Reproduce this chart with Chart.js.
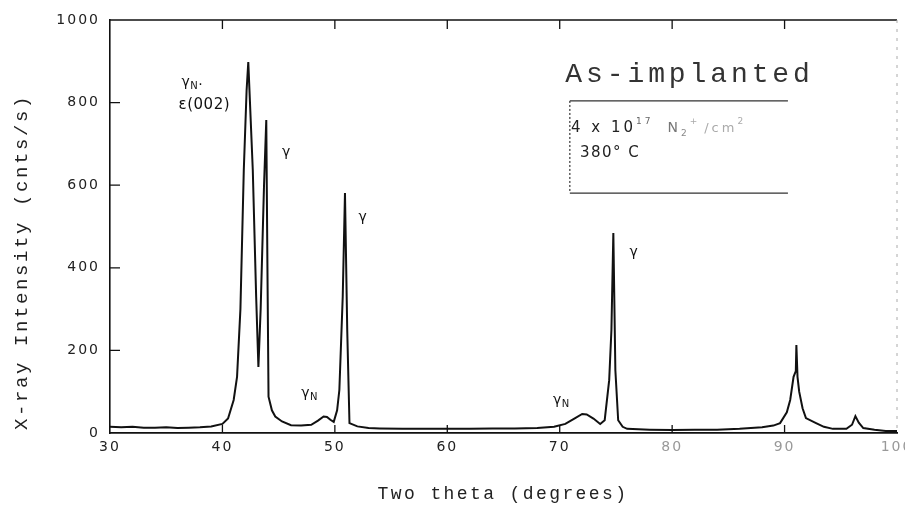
<!DOCTYPE html>
<html>
<head>
<meta charset="utf-8">
<title>XRD - As-implanted</title>
<script src="https://cdn.jsdelivr.net/npm/chart.js@4.4.1/dist/chart.umd.min.js"></script>
<style>
  html, body { margin: 0; padding: 0; background: #fff; }
  #wrap { width: 905px; height: 510px; position: relative; }
</style>
</head>
<body>
<div id="wrap"><canvas id="xrd"></canvas></div>
<script>
// X-ray diffraction pattern, as-implanted sample
var twoTheta = [
  30, 31, 32, 33, 34, 35, 36, 37, 38, 39, 40, 40.5, 41.0, 41.3, 41.6, 41.9, 42.15, 42.3, 42.45, 42.7,
  43.0, 43.2, 43.4, 43.7, 43.9, 44.0, 44.1, 44.4, 44.7, 45.3, 46.1, 47.0, 47.9, 48.5, 49.0, 49.3,
  49.6, 49.9, 50.2, 50.4, 50.7, 50.9, 51.1, 51.3, 52.0, 53, 54, 56, 58, 60, 62, 64, 66, 68, 69.5,
  70.5, 71.3, 72.0, 72.4, 73.0, 73.6, 74.0, 74.4, 74.6, 74.77, 74.95, 75.2, 75.6, 76, 78, 80, 82, 84,
  86, 88, 89.0, 89.6, 90.2, 90.5, 90.8, 91.0, 91.05, 91.15, 91.3, 91.6, 91.9, 92.8, 93.5, 94.3, 95.5,
  96.0, 96.3, 96.6, 97.0, 98, 99, 100
];
var intensity = [
  15, 14, 15, 13, 13, 14, 12, 13, 14, 16, 22, 35, 80, 136, 300, 637, 830, 898, 800, 637,
  330, 160, 300, 600, 758, 410, 88, 55, 40, 28, 19, 18, 20, 30, 40, 39,
  32, 27, 55, 104, 330, 581, 250, 24, 16, 12, 11, 10, 10, 10, 10, 11, 11, 12, 15,
  22, 35, 46, 45, 35, 22, 31, 128, 250, 484, 152, 31, 15, 10, 8, 7, 8, 8,
  10, 14, 18, 24, 50, 80, 136, 150, 213, 136, 100, 60, 36, 24, 15, 10, 10,
  20, 41, 25, 12, 8, 5, 5
];
var xTicks = [30, 40, 50, 60, 70, 80, 90, 100];
var yTicks = [0, 200, 400, 600, 800, 1000];
var fadedXTicks = [80, 90, 100];

var points = twoTheta.map(function (t, i) { return { x: t, y: intensity[i] }; });

// rich text helper: parts = [{t, size, dy, color, gap}]
function drawRich(ctx, x, y, parts, family) {
  var cx = x;
  parts.forEach(function (p) {
    cx += p.gap || 0;
    ctx.font = (p.size || 15) + "px " + family;
    ctx.fillStyle = p.color || "#111";
    ctx.fillText(p.t, cx, y + (p.dy || 0));
    cx += ctx.measureText(p.t).width;
  });
}

var decorPlugin = {
  id: "decor",
  beforeDraw: function (chart) {
    chart.ctx.letterSpacing = "2px";
  },
  afterDraw: function (chart) {
    var ctx = chart.ctx;
    var xs = chart.scales.x, ys = chart.scales.y;
    var a = chart.chartArea;
    ctx.save();
    ctx.letterSpacing = "0px";

    // frame: top line solid, right faint dashed
    ctx.strokeStyle = "#111";
    ctx.lineWidth = 1.5;
    ctx.beginPath();
    ctx.moveTo(a.left, a.top);
    ctx.lineTo(a.right, a.top);
    ctx.stroke();
    ctx.strokeStyle = "#aaa";
    ctx.lineWidth = 1;
    ctx.setLineDash([3, 6]);
    ctx.beginPath();
    ctx.moveTo(a.right, a.top);
    ctx.lineTo(a.right, a.bottom);
    ctx.stroke();
    ctx.setLineDash([]);

    // inward ticks
    ctx.strokeStyle = "#111";
    ctx.lineWidth = 1.3;
    ctx.beginPath();
    yTicks.forEach(function (v) {
      if (v === 0 || v === 1000) return;
      var py = ys.getPixelForValue(v);
      ctx.moveTo(a.left, py);
      ctx.lineTo(a.left + 10, py);
    });
    xTicks.forEach(function (v) {
      if (v === 30 || v === 100) return;
      var px = xs.getPixelForValue(v);
      ctx.moveTo(px, a.bottom);
      ctx.lineTo(px, a.bottom - 8);
      ctx.moveTo(px, a.top);
      ctx.lineTo(px, a.top + 9);
    });
    ctx.stroke();

    // axis titles
    ctx.fillStyle = "#222";
    ctx.font = "18px 'Liberation Mono'";
    ctx.letterSpacing = "2.4px";
    ctx.textAlign = "center";
    ctx.textBaseline = "middle";
    ctx.fillText("Two theta (degrees)", 503, 494);
    ctx.save();
    ctx.translate(22, 262);
    ctx.rotate(-Math.PI / 2);
    ctx.font = "19px 'Liberation Mono'";
    ctx.letterSpacing = "2.6px";
    ctx.fillText("X-ray Intensity (cnts/s)", 0, 0);
    ctx.restore();

    // peak labels
    ctx.textAlign = "left";
    ctx.textBaseline = "middle";
    ctx.letterSpacing = "0.5px";
    var fam = "'DejaVu Sans'";
    function at(x, y) { return [xs.getPixelForValue(x), ys.getPixelForValue(y)]; }
    var p;
    p = at(36.35, 850);
    drawRich(ctx, p[0], p[1], [{ t: "γ", size: 14 }, { t: "N", size: 10, dy: 4 }, { t: "·", size: 14, dy: 3 }], fam);
    p = at(36.1, 794);
    drawRich(ctx, p[0], p[1], [{ t: "ε(002)", size: 15 }], fam);
    p = at(45.3, 680);
    drawRich(ctx, p[0], p[1], [{ t: "γ", size: 14 }], fam);
    p = at(52.1, 523);
    drawRich(ctx, p[0], p[1], [{ t: "γ", size: 14 }], fam);
    p = at(47.0, 97);
    drawRich(ctx, p[0], p[1], [{ t: "γ", size: 14 }, { t: "N", size: 10, dy: 4 }], fam);
    p = at(69.4, 80);
    drawRich(ctx, p[0], p[1], [{ t: "γ", size: 14 }, { t: "N", size: 10, dy: 4 }], fam);
    p = at(76.2, 438);
    drawRich(ctx, p[0], p[1], [{ t: "γ", size: 14 }], fam);

    // condition label and box
    ctx.textBaseline = "alphabetic";
    ctx.letterSpacing = "3.9px";
    ctx.fillStyle = "#333";
    ctx.font = "28px 'Liberation Mono'";
    p = at(70.5, 0);
    ctx.fillText("As-implanted", p[0], 82);

    var bl = xs.getPixelForValue(70.9), br = xs.getPixelForValue(90.3);
    var bt = ys.getPixelForValue(804), bb = ys.getPixelForValue(581);
    ctx.strokeStyle = "#333";
    ctx.lineWidth = 1.2;
    ctx.beginPath();
    ctx.moveTo(bl, bt); ctx.lineTo(br, bt);
    ctx.moveTo(bl, bb); ctx.lineTo(br, bb);
    ctx.stroke();
    ctx.setLineDash([2, 2]);
    ctx.beginPath();
    ctx.moveTo(bl, bt); ctx.lineTo(bl, bb);
    ctx.stroke();
    ctx.setLineDash([]);

    ctx.textBaseline = "middle";
    ctx.letterSpacing = "3px";
    p = at(71.0, 738);
    drawRich(ctx, p[0], p[1], [
      { t: "4 x 10", size: 15, color: "#222" },
      { t: "17", size: 9, dy: -7, color: "#666" },
      { t: "N", size: 14, color: "#777", gap: 14 },
      { t: "2", size: 9, dy: 5, color: "#888" },
      { t: "+", size: 9, dy: -7, color: "#aaa" },
      { t: "/cm", size: 13, color: "#aaa", gap: 4 },
      { t: "2", size: 9, dy: -7, color: "#aaa" }
    ], fam);
    ctx.letterSpacing = "1.5px";
    p = at(71.8, 678);
    drawRich(ctx, p[0], p[1], [{ t: "380° C", size: 15, color: "#222" }], fam);

    ctx.restore();
    ctx.letterSpacing = "0px";
  }
};

new Chart(document.getElementById("xrd").getContext("2d"), {
  type: "scatter",
  data: {
    datasets: [{
      data: points,
      showLine: true,
      borderColor: "#111",
      borderWidth: 2,
      pointRadius: 0,
      tension: 0
    }]
  },
  options: {
    responsive: true,
    maintainAspectRatio: false,
    animation: false,
    layout: { padding: { top: 20, right: 8, left: 0, bottom: 0 } },
    plugins: {
      legend: { display: false },
      tooltip: { enabled: false }
    },
    scales: {
      x: {
        type: "linear",
        min: 30,
        max: 100,
        afterBuildTicks: function (s) { s.ticks = xTicks.map(function (v) { return { value: v }; }); },
        afterFit: function (s) { s.height = 77; s.paddingRight = 0; s.paddingLeft = 0; },
        ticks: {
          padding: 6,
          maxRotation: 0,
          autoSkip: false,
          font: { family: "'DejaVu Sans'", size: 14 },
          callback: function (v) { return String(v); },
          color: function (c) { return fadedXTicks.indexOf(c.tick.value) >= 0 ? "#999" : "#222"; }
        },
        grid: { display: false, drawTicks: false },
        border: { display: true, color: "#111", width: 1.8 }
      },
      y: {
        min: 0,
        max: 1000,
        afterBuildTicks: function (s) { s.ticks = yTicks.map(function (v) { return { value: v }; }); },
        afterFit: function (s) { s.width = 110; },
        ticks: {
          padding: 10,
          font: { family: "'DejaVu Sans'", size: 14 },
          callback: function (v) { return String(v); },
          color: "#222"
        },
        grid: { display: false, drawTicks: false },
        border: { display: true, color: "#111", width: 1.6 }
      }
    }
  },
  plugins: [decorPlugin]
});
</script>
</body>
</html>
